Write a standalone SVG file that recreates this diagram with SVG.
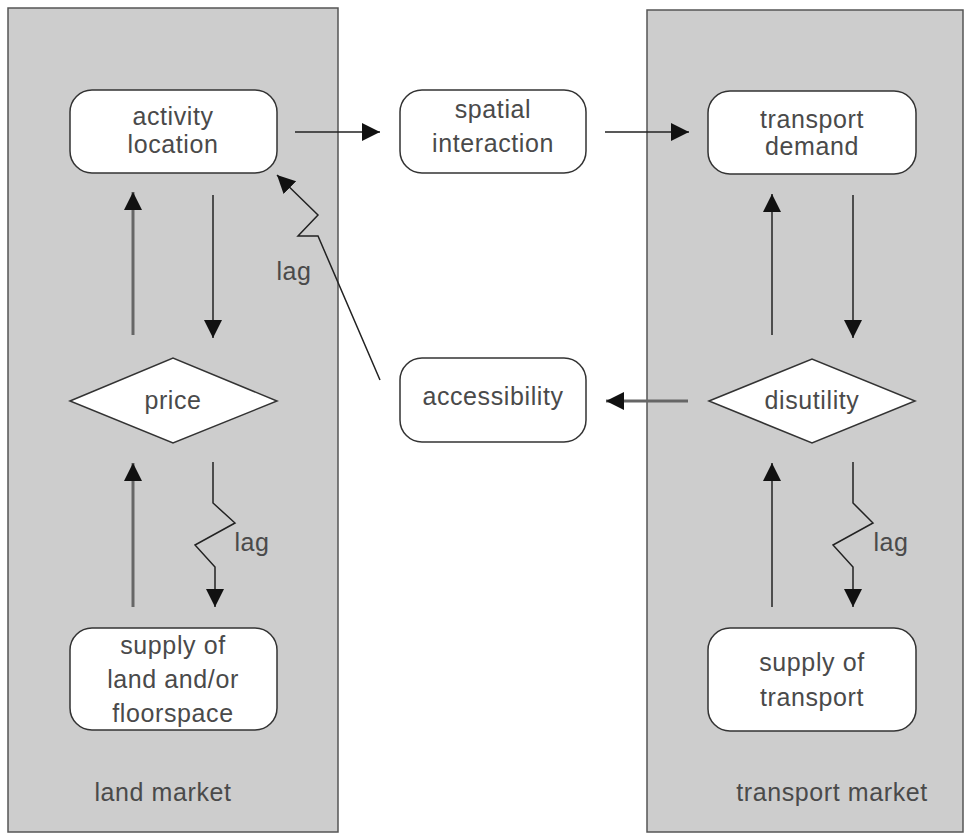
<svg xmlns="http://www.w3.org/2000/svg" width="965" height="834" viewBox="0 0 965 834">
<defs>
<marker id="ah" markerUnits="userSpaceOnUse" markerWidth="20" markerHeight="20" refX="18" refY="9" orient="auto">
<path d="M0,0 L18,9 L0,18 z" fill="#111"/>
</marker>
</defs>
<style>
.panel{fill:#cdcdcd;stroke:#555;stroke-width:1.5}
.box{fill:#fff;stroke:#333;stroke-width:1.5}
.t{font-family:"Liberation Sans",Arial,sans-serif;font-size:25px;fill:#4a4a4a;text-anchor:middle;letter-spacing:0.6px}
.c{fill:none;stroke:#222;stroke-width:1.5;marker-end:url(#ah)}
.g{fill:none;stroke:#666;stroke-width:3;marker-end:url(#ah)}
</style>
<rect width="965" height="834" fill="#fff"/>
<g id="land-market">
<rect class="panel" x="8" y="8" width="330" height="824"/>
<text class="t" x="163" y="801">land market</text>
</g>
<g id="transport-market">
<rect class="panel" x="647" y="10" width="316" height="822"/>
<text class="t" x="832" y="801">transport market</text>
</g>
<g id="activity-location">
<rect class="box" x="70" y="90" width="207" height="83" rx="22"/>
<text class="t" x="173" y="125">activity</text>
<text class="t" x="173" y="153">location</text>
</g>
<g id="spatial-interaction">
<rect class="box" x="400" y="90" width="186" height="83" rx="22"/>
<text class="t" x="493" y="118">spatial</text>
<text class="t" x="493" y="152">interaction</text>
</g>
<g id="transport-demand">
<rect class="box" x="708" y="91" width="208" height="83" rx="22"/>
<text class="t" x="812" y="128">transport</text>
<text class="t" x="812" y="155">demand</text>
</g>
<g id="price">
<polygon class="box" points="70,401 173,358 277,401 173,443"/>
<text class="t" x="173" y="409">price</text>
</g>
<g id="accessibility">
<rect class="box" x="400" y="358" width="186" height="84" rx="22"/>
<text class="t" x="493" y="405">accessibility</text>
</g>
<g id="disutility">
<polygon class="box" points="709,401 812,359 915,401 812,443"/>
<text class="t" x="812" y="409">disutility</text>
</g>
<g id="supply-land">
<rect class="box" x="70" y="628" width="207" height="102" rx="22"/>
<text class="t" x="173" y="654">supply of</text>
<text class="t" x="173" y="688">land and/or</text>
<text class="t" x="173" y="722">floorspace</text>
</g>
<g id="supply-transport">
<rect class="box" x="708" y="628" width="208" height="103" rx="22"/>
<text class="t" x="812" y="671">supply of</text>
<text class="t" x="812" y="706">transport</text>
</g>
<g id="connectors">
<line class="c" x1="295" y1="132" x2="380" y2="132"/>
<line class="c" x1="605" y1="132" x2="689" y2="132"/>
<line class="g" x1="133" y1="335" x2="133" y2="192"/>
<line class="c" x1="213" y1="195" x2="213" y2="338"/>
<line class="g" x1="133" y1="607" x2="133" y2="463"/>
<polyline class="c" points="213,462 213,503 235,523 195,545 215,567 215,607"/>
<line class="c" x1="772" y1="335" x2="772" y2="194"/>
<line class="c" x1="853" y1="195" x2="853" y2="338"/>
<line class="c" x1="772" y1="607" x2="772" y2="463"/>
<polyline class="c" points="853,462 853,503 873,523 833,545 853,567 853,607"/>
<line class="g" x1="688" y1="401" x2="606" y2="401"/>
<polyline class="c" points="380,380 318,236 298,236 318,215 277,175"/>
<text class="t" x="294" y="280">lag</text>
<text class="t" x="252" y="551">lag</text>
<text class="t" x="891" y="551">lag</text>
</g>
</svg>
